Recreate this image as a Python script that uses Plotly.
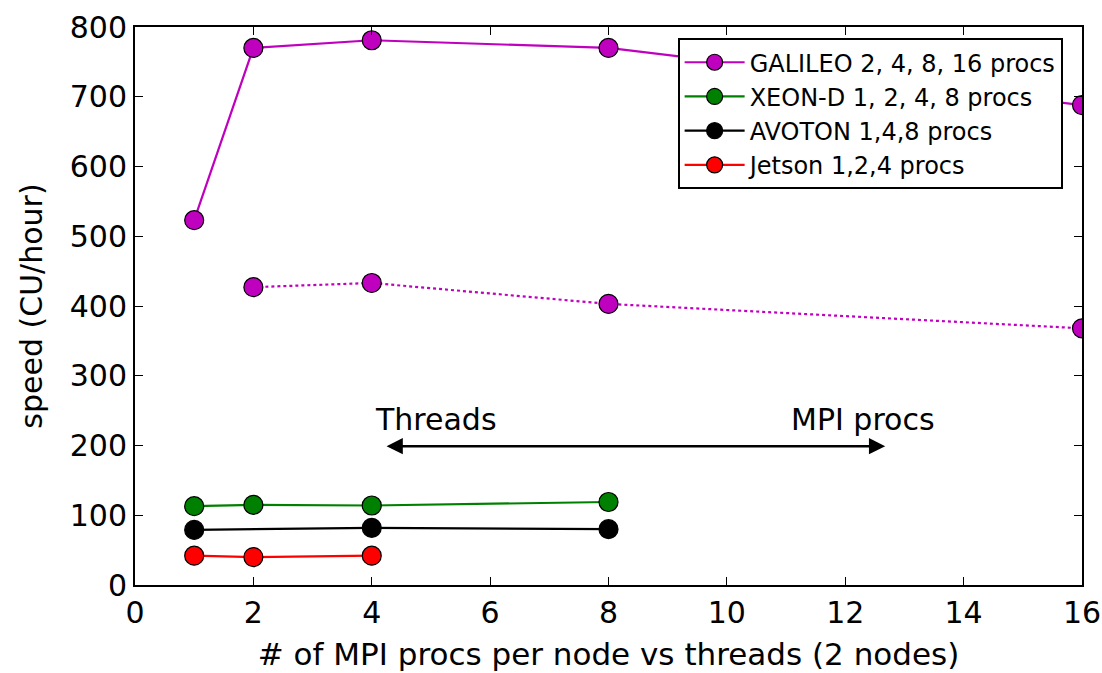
import plotly.graph_objects as go

# Speed (CU/hour) against MPI processes per node, 2 nodes
galileo_x = [1, 2, 4, 8, 16]
galileo_y = [523, 770, 781, 770, 688]

galileo_thr_x = [2, 4, 8, 16]
galileo_thr_y = [427, 433, 403, 368]

xeon_x = [1, 2, 4, 8]
xeon_y = [113, 115, 114, 119]

avoton_x = [1, 4, 8]
avoton_y = [79, 82, 80]

jetson_x = [1, 2, 4]
jetson_y = [42, 40, 42]

FONT = "DejaVu Sans"
BIG = 30

def series(x, y, color, name, dash="solid", show=True):
    return go.Scatter(
        x=x, y=y, name=name, mode="lines+markers", showlegend=show,
        line=dict(color=color, width=2.2, dash=dash),
        marker=dict(color=color, size=19, line=dict(color="black", width=1.2)),
    )

fig = go.Figure()
fig.add_trace(series(galileo_x, galileo_y, "#bf00bf", "GALILEO 2, 4, 8, 16 procs"))
fig.add_trace(series(galileo_thr_x, galileo_thr_y, "#bf00bf", "GALILEO threads", dash="dot", show=False))
fig.add_trace(series(xeon_x, xeon_y, "#008000", "XEON-D 1, 2, 4, 8 procs"))
fig.add_trace(series(avoton_x, avoton_y, "black", "AVOTON 1,4,8 procs"))
fig.add_trace(series(jetson_x, jetson_y, "#ff0000", "Jetson 1,2,4 procs"))

# Threads <-> MPI procs double arrow
fig.add_annotation(x=4.25, y=199, ax=12.7, ay=199, xref="x", yref="y", axref="x", ayref="y",
                   text="", showarrow=True, arrowhead=2, arrowside="end+start",
                   arrowsize=1.3, arrowwidth=2.5, arrowcolor="black")
fig.add_annotation(x=5.08, y=238, xref="x", yref="y", text="Threads", showarrow=False,
                   font=dict(family=FONT, size=BIG, color="black"))
fig.add_annotation(x=12.3, y=238, xref="x", yref="y", text="MPI procs", showarrow=False,
                   font=dict(family=FONT, size=BIG, color="black"))

axis_common = dict(
    showgrid=False, zeroline=False, showline=True, linecolor="black", linewidth=2,
    mirror="allticks", ticks="inside", ticklen=8, tickwidth=1, tickcolor="black",
    tickfont=dict(family=FONT, size=BIG, color="black"), automargin=False,
)

fig.update_layout(
    width=1102, height=673,
    margin=dict(l=135, r=20, t=27, b=88),
    plot_bgcolor="white", paper_bgcolor="white",
    xaxis=dict(range=[0, 16], dtick=2, tick0=0,
               title=dict(text="# of MPI procs per node vs threads (2 nodes)",
                          font=dict(family=FONT, size=31, color="black"), standoff=14),
               **axis_common),
    yaxis=dict(range=[0, 800], dtick=100, tick0=0,
               title=dict(text="speed (CU/hour)",
                          font=dict(family=FONT, size=BIG, color="black"), standoff=18),
               **axis_common),
    legend=dict(x=0.573, y=0.98, xanchor="left", yanchor="top",
                bgcolor="white", bordercolor="black", borderwidth=2,
                font=dict(family=FONT, size=24, color="black"),
                itemwidth=60, tracegroupgap=0),
    showlegend=True,
)

fig.write_html("out.html")
